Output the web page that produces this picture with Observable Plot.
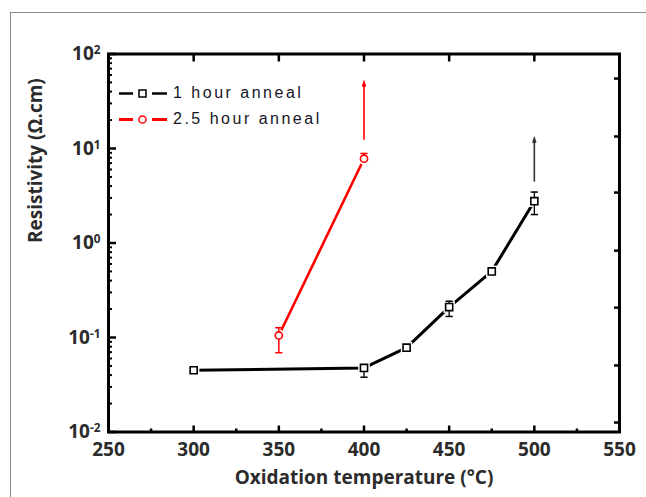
<!DOCTYPE html>
<html><head><meta charset="utf-8">
<script src="https://cdn.jsdelivr.net/npm/d3@7"></script>
<script src="https://cdn.jsdelivr.net/npm/@observablehq/plot@0.6"></script>
<style>
body{margin:0;background:#fff;}
#wrap{position:relative;width:646px;height:497px;overflow:hidden;background:#fff;}
#border{position:absolute;left:10px;top:12px;width:700px;height:600px;border:1.5px solid #8c8c8c;}
#chart{position:absolute;left:0;top:0;}
#legend{position:absolute;left:119px;top:80px;font-family:"Liberation Sans",Arial,sans-serif;font-size:16px;letter-spacing:2.5px;color:#151525;line-height:26px;}
#legend .row{display:flex;align-items:center;height:26px;}
#legend svg{margin-right:6px;}
</style></head><body>
<div id="wrap"><div id="border"></div><div id="chart"></div><div id="legend"></div></div>
<script>
// ---- data ----
const series = ["1 hour anneal", "2.5 hour anneal"];
const seriesColor = ["#000000", "#ff0000"];
const temp1h = [300, 400, 425, 450, 475, 500];
const res1h = [0.045, 0.0477, 0.078, 0.21, 0.50, 2.77];
const temp25h = [350, 400];
const res25h = [0.105, 7.8];
// error bars (vertical segments)
const err1hTemp = [400, 450, 500];
const err1hLow = [0.038, 0.167, 2.0];
const err1hHigh = [0.0477, 0.242, 3.46];
const err25hTemp = [350, 400];
const err25hLow = [0.069, 7.8];
const err25hHigh = [0.127, 8.86];
// error-bar caps
const cap1hTemp = [400, 450, 450, 500, 500];
const cap1hVal = [0.038, 0.167, 0.242, 2.0, 3.46];
const cap25hTemp = [350, 350, 400];
const cap25hVal = [0.069, 0.127, 8.86];
// arrows (lower limit beyond)
const arrowTemp = [500, 400];
const arrowFrom = [4.4, 12.2];
const arrowTo = [12.2, 48];
const arrowColor = ["#333333", "#ff0000"];
// ticks
const xTickLabels = [250, 300, 350, 400, 450, 500, 550];
const xMajor = [300, 350, 400, 450, 500];
const xMinor = [275, 325, 375, 425, 475, 525];
const yDecades = [0.01, 0.1, 1, 10, 100];
const yMinor = [0.02,0.03,0.04,0.05,0.06,0.07,0.08,0.09,
                0.2,0.3,0.4,0.5,0.6,0.7,0.8,0.9,
                2,3,4,5,6,7,8,9,
                20,30,40,50,60,70,80,90];
const yRightTicks = [55, 13.4, 3.42, 0.83, 0.207, 0.0506, 0.0126];
const xTitle = "Oxidation temperature (\u00B0C)";
const yTitle = "Resistivity (\u03A9.cm)";

const d1 = temp1h.map((t, i) => ({t, r: res1h[i]}));
const d2 = temp25h.map((t, i) => ({t, r: res25h[i]}));
const e1 = err1hTemp.map((t, i) => ({t, lo: err1hLow[i], hi: err1hHigh[i]}));
const e2 = err25hTemp.map((t, i) => ({t, lo: err25hLow[i], hi: err25hHigh[i]}));
const c1 = cap1hTemp.map((t, i) => ({t, v: cap1hVal[i]}));
const c2 = cap25hTemp.map((t, i) => ({t, v: cap25hVal[i]}));
const arrows = arrowTemp.map((t, i) => ({t, a: arrowFrom[i], b: arrowTo[i], c: arrowColor[i]}));

const capSymbol = {draw(ctx, size) { const w = Math.sqrt(size / Math.PI); ctx.moveTo(-w, 0); ctx.lineTo(w, 0); }};
const headSymbol = {draw(ctx, size) { const w = Math.sqrt(size / Math.PI); ctx.moveTo(0, -w * 1.6); ctx.lineTo(w * 0.8, w); ctx.lineTo(-w * 0.8, w); ctx.closePath(); }};
const txt = "#2b2b2b";
const font = "'Open Sans', sans-serif";
const none = () => "";

const chart = Plot.plot({
  width: 646, height: 497,
  marginLeft: 108, marginRight: 27, marginTop: 53.5, marginBottom: 65.5,
  x: {domain: [250, 550]},
  y: {type: "log", domain: [0.01, 100]},
  style: {fontFamily: font, background: "transparent", overflow: "visible"},
  marks: [
    // lines
    Plot.line(d1, {x: "t", y: "r", stroke: seriesColor[0], strokeWidth: 3}),
    Plot.line(d2, {x: "t", y: "r", stroke: seriesColor[1], strokeWidth: 2.6}),
    // white halos to create gaps round markers
    Plot.dot(d1, {x: "t", y: "r", symbol: "square", r: 6.5, fill: "white"}),
    Plot.dot(d2, {x: "t", y: "r", symbol: "circle", r: 6, fill: "white"}),
    // arrows (shaft + small filled head)
    Plot.ruleX(arrows, {x: "t", y1: "a", y2: "b", stroke: "c", strokeWidth: 1.6}),
    Plot.dot(arrows, {x: "t", y: "b", symbol: headSymbol, r: 2.2, fill: "c", stroke: "c", strokeWidth: 0.8}),
    // error bars
    Plot.ruleX(e1, {x: "t", y1: "lo", y2: "hi", stroke: seriesColor[0], strokeWidth: 1.3}),
    Plot.ruleX(e2, {x: "t", y1: "lo", y2: "hi", stroke: seriesColor[1], strokeWidth: 1.5}),
    Plot.dot(c1, {x: "t", y: "v", symbol: capSymbol, r: 3.6, stroke: seriesColor[0], strokeWidth: 1.5}),
    Plot.dot(c2, {x: "t", y: "v", symbol: capSymbol, r: 3.6, stroke: seriesColor[1], strokeWidth: 1.5}),
    // markers
    Plot.dot(d1, {x: "t", y: "r", symbol: "square", r: 4, fill: "white", stroke: seriesColor[0], strokeWidth: 1.6}),
    Plot.dot(d2, {x: "t", y: "r", symbol: "circle", r: 3.6, fill: "white", stroke: seriesColor[1], strokeWidth: 1.6}),
    // axes (tick marks only)
    Plot.axisX(xMajor, {anchor: "bottom", tickSize: -6, tickFormat: none, strokeWidth: 2.5, label: null}),
    Plot.axisX(xMinor, {anchor: "bottom", tickSize: -3, tickFormat: none, strokeWidth: 2.5, label: null}),
    Plot.axisX(xMajor, {anchor: "top", tickSize: -7, tickFormat: none, strokeWidth: 2.5, label: null}),
    Plot.axisY(yDecades, {anchor: "left", tickSize: -8, tickFormat: none, strokeWidth: 2.5, label: null}),
    Plot.axisY(yMinor, {anchor: "left", tickSize: -4, tickFormat: none, strokeWidth: 2, label: null}),
    Plot.axisY(yRightTicks, {anchor: "right", tickSize: -6, tickFormat: none, strokeWidth: 2.5, label: null}),
    // tick labels
    Plot.axisX(xTickLabels, {anchor: "bottom", tickSize: 0, tickPadding: 10, fontSize: 19, fontWeight: "bold", fill: txt, tickFormat: d => String(d), label: null}),
    Plot.axisY(yDecades, {anchor: "left", tickSize: 0, tickPadding: 8, fontSize: 19, fontWeight: "bold", fill: txt,
      tickFormat: d => "10^" + Math.round(Math.log10(d)), label: null}),
    Plot.frame({stroke: "black", strokeWidth: 3}),
    // titles
    Plot.text([xTitle], {frameAnchor: "bottom", dy: 51.5, text: d => d, fontSize: 19, fontWeight: "bold", fill: txt}),
    Plot.text([yTitle], {frameAnchor: "left", dx: -73, rotate: -90, text: d => d, fontSize: 19, fontWeight: "bold", fill: txt})
  ]
});
document.getElementById("chart").appendChild(chart);

// superscript exponents on y tick labels
d3.select(chart).selectAll('g[aria-label="y-axis tick label"] text').each(function() {
  const s = this.textContent;
  const m = s.match(/^10\^(-?\d+)$/);
  if (!m) return;
  const t = d3.select(this);
  t.text(null);
  t.append("tspan").text("10");
  t.append("tspan").attr("dy", "-0.5em").attr("font-size", "0.62em").text(m[1]);
});

// legend
const leg = document.getElementById("legend");
series.forEach((name, i) => {
  const row = document.createElement("div");
  row.className = "row";
  const sym = i === 0
    ? `<rect x="20" y="9" width="7" height="7" fill="white" stroke="${seriesColor[i]}" stroke-width="1.5"/>`
    : `<circle cx="23.5" cy="12.5" r="3.6" fill="white" stroke="${seriesColor[i]}" stroke-width="1.5"/>`;
  row.innerHTML = `<svg width="48" height="25"><line x1="0" x2="14" y1="12.5" y2="12.5" stroke="${seriesColor[i]}" stroke-width="${i===0?2.5:3}"/><line x1="33" x2="48" y1="12.5" y2="12.5" stroke="${seriesColor[i]}" stroke-width="${i===0?2.5:3}"/>${sym}</svg><span>${name}</span>`;
  leg.appendChild(row);
});
</script>
</body></html>
